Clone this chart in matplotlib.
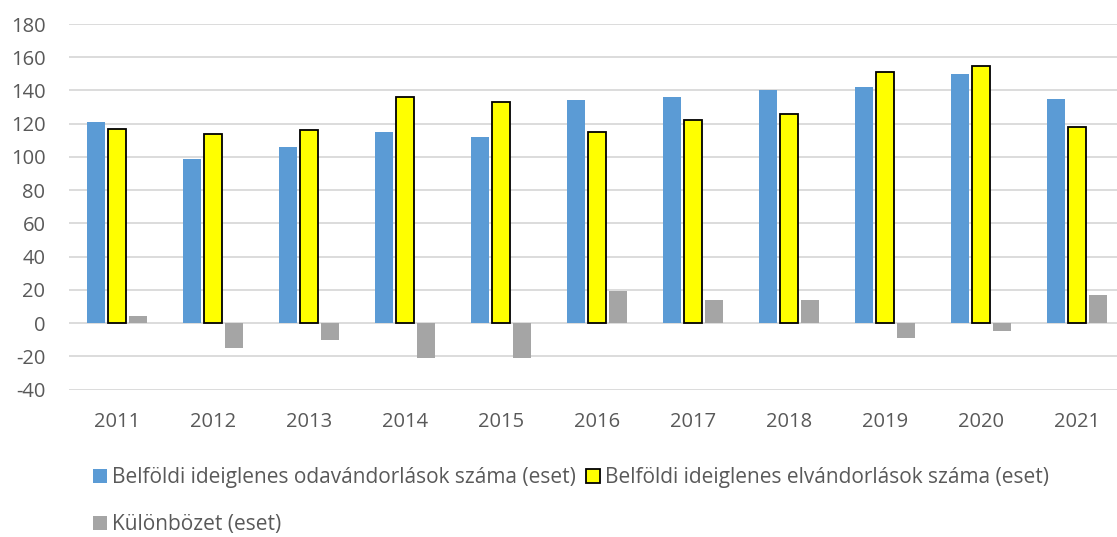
import numpy as np
import matplotlib
matplotlib.use("Agg")
import matplotlib.pyplot as plt
from matplotlib.patches import Patch

# adatok
years = ['2011', '2012', '2013', '2014', '2015', '2016', '2017', '2018', '2019', '2020', '2021']
odavandorlas = [121, 99, 106, 115, 112, 134, 136, 140, 142, 150, 135]
elvandorlas = [117, 114, 116, 136, 133, 115, 122, 126, 151, 155, 118]
kulonbozet = [4, -15, -10, -21, -21, 19, 14, 14, -9, -5, 17]

labels = ['Belföldi ideiglenes odavándorlások száma (eset)',
          'Belföldi ideiglenes elvándorlások száma (eset)',
          'Különbözet (eset)']

c_blue = '#5B9BD5'
c_yellow = '#FFFF00'
c_grey = '#A5A5A5'
txt = '#595959'

plt.rcParams['font.family'] = ['Open Sans', 'DejaVu Sans']
plt.rcParams['axes.unicode_minus'] = False

fig = plt.figure(figsize=(11.17, 5.37), dpi=100)
ax = fig.add_axes([69 / 1117, 1 - 389.5 / 537, 1056 / 1117, 365.5 / 537])

x = np.arange(len(years))
w = 0.185
off = 0.22
ax.bar(x - off, odavandorlas, w, color=c_blue, zorder=3)
ax.bar(x, elvandorlas, w, color=c_yellow, edgecolor='black', linewidth=1.3, zorder=3)
ax.bar(x + off, kulonbozet, w, color=c_grey, zorder=3)

ax.set_xlim(-0.5, len(years) - 0.5)
ax.set_ylim(-40, 180)
ax.set_yticks(range(-40, 181, 20))
ax.set_xticks(x)
ax.set_xticklabels(years)
ax.yaxis.grid(True, color='#D9D9D9', linewidth=1.3, zorder=0)
ax.set_axisbelow(True)
for s in ax.spines.values():
    s.set_visible(False)
ax.tick_params(axis='both', length=0, labelsize=14.5, labelcolor=txt)
ax.tick_params(axis='y', pad=17)
ax.tick_params(axis='x', pad=16)

# jelmagyarázat: 1. sor két elem, 2. sor egy elem
h1 = Patch(facecolor=c_blue, edgecolor='none')
h2 = Patch(facecolor=c_yellow, edgecolor='black', linewidth=1.3)
h3 = Patch(facecolor=c_grey, edgecolor='none')
leg = fig.legend([h1, h3, h2], [labels[0], labels[2], labels[1]], ncol=2,
                 loc='upper left', bbox_to_anchor=(93 / 1117, 1 - 467 / 537),
                 frameon=False, handlelength=0.65, handleheight=0.65,
                 handletextpad=0.25, columnspacing=0.5, labelspacing=1.25,
                 borderaxespad=0, borderpad=0,
                 prop={'family': ['Open Sans', 'DejaVu Sans'], 'size': 15})
for t in leg.get_texts():
    t.set_color(txt)

fig.savefig('out.png', dpi=100)
